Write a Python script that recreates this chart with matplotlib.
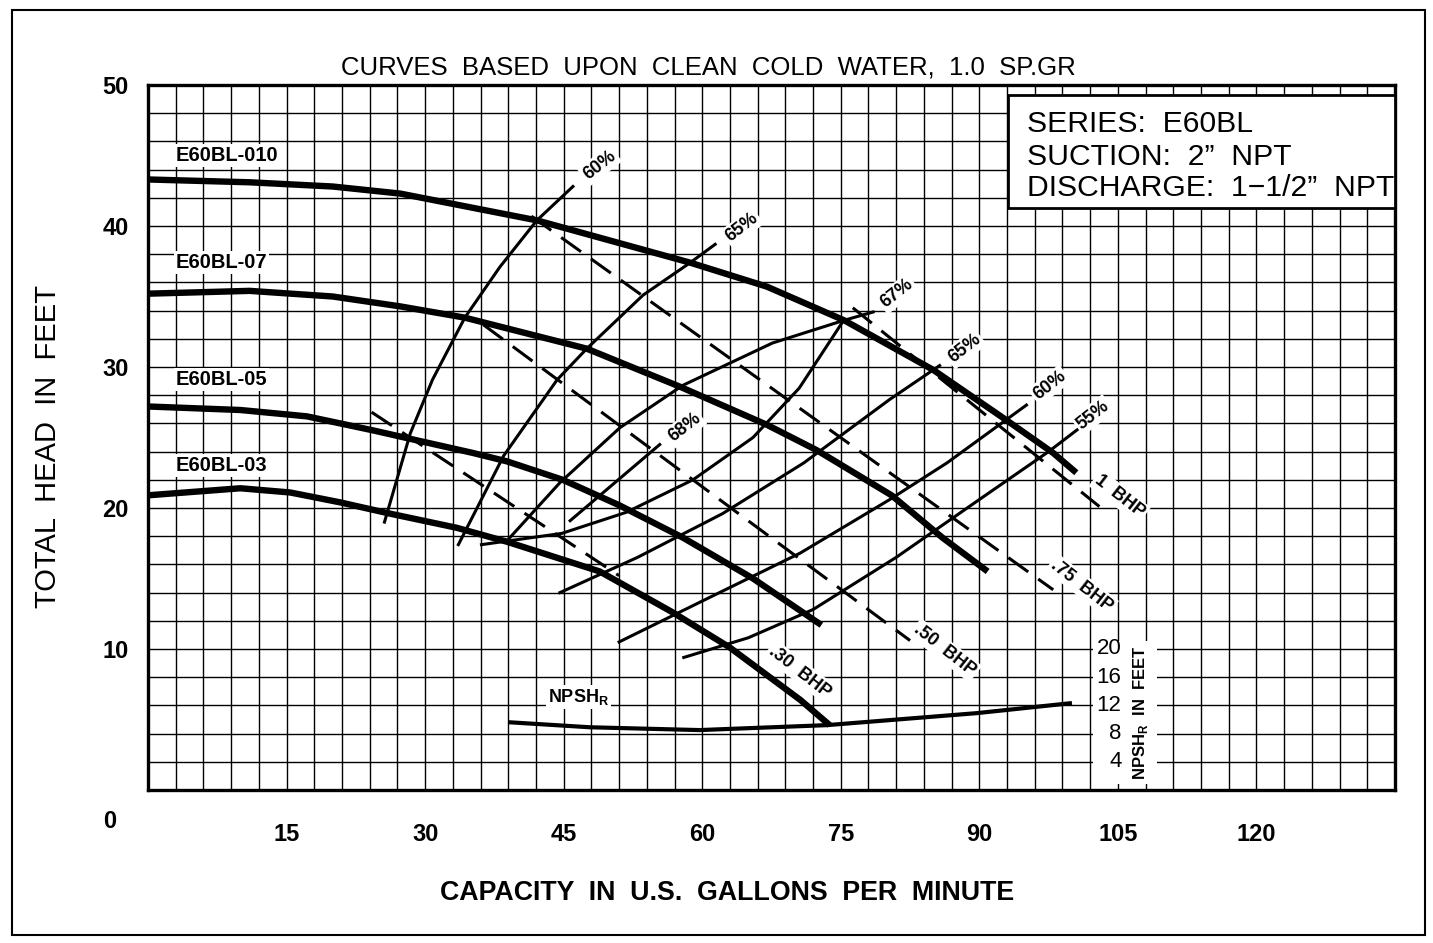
import numpy as np
import matplotlib
matplotlib.use('Agg')
import matplotlib.pyplot as plt
from matplotlib import font_manager
from matplotlib.patches import Rectangle

# pump performance curves (GPM, feet of head)
q_010 = [0, 11, 20, 27.3, 42.1, 58.7, 67, 75.4, 85, 93, 98, 100.5]
h_010 = [43.3, 43.1, 42.8, 42.3, 40.4, 37.4, 35.7, 33.3, 29.8, 26.2, 23.9, 22.5]
q_07 = [0, 11, 20, 27.3, 34.3, 47.5, 57.6, 67, 72.4, 80.5, 86, 90.9]
h_07 = [35.2, 35.4, 35.0, 34.3, 33.5, 31.3, 28.6, 25.9, 24.1, 20.9, 17.9, 15.5]
q_05 = [0, 10, 17.2, 24.4, 29.1, 35.2, 38.9, 44.9, 51, 57.9, 65.5, 72.9]
h_05 = [27.2, 26.95, 26.5, 25.5, 24.8, 23.9, 23.3, 22.0, 20.2, 17.9, 15.0, 11.7]
q_03 = [0, 10, 15.4, 20.8, 26.2, 33.4, 38.9, 48.9, 56.8, 63, 70.6, 73.8]
h_03 = [20.9, 21.4, 21.1, 20.4, 19.6, 18.6, 17.6, 15.5, 12.6, 10.1, 6.4, 4.6]

# efficiency lines
q_e60l = [25.6, 28.4, 30.8, 34.3, 38.1, 42.1, 46.0]
h_e60l = [19.0, 25.3, 29.1, 33.5, 37.1, 40.4, 42.8]
q_e65l = [33.6, 38.5, 44.3, 47.5, 53.6, 58.7, 61.4]
h_e65l = [17.4, 23.7, 29.1, 31.3, 35.1, 37.4, 38.7]
q_e67a = [38.9, 44.6, 51.1, 57.9, 67.6, 75.3, 78.5]
h_e67a = [17.7, 21.8, 25.7, 28.7, 31.7, 33.3, 33.9]
q_e67b = [36.1, 44.8, 51.8, 59.0, 65.5, 70.5, 75.3]
h_e67b = [17.4, 18.2, 19.7, 22.0, 25.0, 28.5, 33.3]
q_e68 = [45.7, 55.4]
h_e68 = [19.1, 24.5]
q_e65r = [44.6, 53, 62.2, 71, 80.3, 85.7]
h_e65r = [14.0, 16.5, 19.6, 23.2, 27.7, 30.1]
q_e60r = [51.0, 60, 70.6, 80.3, 86.5, 95.1]
h_e60r = [10.5, 13.4, 16.8, 20.6, 23.2, 27.3]
q_e55 = [58, 65, 72, 81, 90, 97.5, 101.5]
h_e55 = [9.4, 10.8, 12.8, 16.5, 20.6, 24.0, 26.0]

# brake horsepower lines
q_bhp100 = [76.3, 103.0]
h_bhp100 = [34.2, 20.1]
q_bhp75 = [41.5, 98.0]
h_bhp75 = [40.7, 14.2]
q_bhp50 = [36.3, 82.5]
h_bhp50 = [33.0, 10.6]
q_bhp30 = [24.2, 51.0]
h_bhp30 = [26.8, 15.2]

# NPSH required (feet of NPSH, drawn on a half scale)
q_npsh = [39.2, 47.8, 59.7, 73.5, 89.7, 99.8]
npsh = [9.6, 8.9, 8.5, 9.2, 10.9, 12.3]
npsh_ticks = [4, 8, 12, 16, 20]

x_ticks = [15, 30, 45, 60, 75, 90, 105, 120]
y_ticks = [10, 20, 30, 40, 50]

names = {f.name for f in font_manager.fontManager.ttflist}
narrow = 'Liberation Sans Narrow' in names
plt.rcParams['font.family'] = ['Liberation Sans', 'DejaVu Sans']

W, H = 1433, 943
fig = plt.figure(figsize=(W / 100, H / 100), dpi=100)
ax = fig.add_axes([148 / W, 1 - 790 / H, (1395 - 148) / W, (790 - 85) / H])
ax.set_xlim(0, 135)
ax.set_ylim(0, 50)

ax.set_xticks(x_ticks)
ax.set_yticks(y_ticks)
ax.set_xticks(np.arange(0, 136, 3), minor=True)
ax.set_yticks(np.arange(0, 51, 2), minor=True)
ax.grid(which='both', color='black', lw=1.0)
ax.set_axisbelow(True)
ax.tick_params(which='both', length=0)
ax.tick_params(axis='x', pad=24, labelsize=17)
ax.tick_params(axis='y', pad=14, labelsize=17)
for lab in ax.get_xticklabels() + ax.get_yticklabels():
    lab.set_fontweight('bold')
for s in ax.spines.values():
    s.set_linewidth(2.4)

thick = dict(color='black', lw=4.6, solid_capstyle='butt', zorder=4)
thin = dict(color='black', lw=2.2, zorder=3)
dash = dict(color='black', lw=2.2, dashes=(8, 4), zorder=3)

for q, h in [(q_010, h_010), (q_07, h_07), (q_05, h_05), (q_03, h_03)]:
    ax.plot(q, h, **thick)
for q, h in [(q_e60l, h_e60l), (q_e65l, h_e65l), (q_e67a, h_e67a), (q_e67b, h_e67b),
             (q_e68, h_e68), (q_e65r, h_e65r), (q_e60r, h_e60r), (q_e55, h_e55)]:
    ax.plot(q, h, **thin)
for q, h in [(q_bhp100, h_bhp100), (q_bhp75, h_bhp75), (q_bhp50, h_bhp50), (q_bhp30, h_bhp30)]:
    ax.plot(q, h, **dash)
ax.plot(q_npsh, np.array(npsh) / 2, color='black', lw=3.0, zorder=4)

wbox = dict(facecolor='white', edgecolor='none', pad=1.5)
curve_labels = [('E60BL-010', 45.0), ('E60BL-07', 37.4), ('E60BL-05', 29.1), ('E60BL-03', 23.0)]
for txt, y in curve_labels:
    ax.text(3.0, y, txt, fontsize=14.5, fontweight='bold', ha='left', va='center',
            bbox=wbox, zorder=5)

eff_labels = [('60%', 48.9, 44.3), ('65%', 64.3, 39.9), ('67%', 81.1, 35.2),
              ('65%', 88.4, 31.3), ('60%', 97.6, 28.7), ('55%', 102.3, 26.6),
              ('68%', 58.1, 25.7)]
for txt, x, y in eff_labels:
    ax.text(x, y, txt, fontsize=13, fontweight='bold', rotation=38,
            ha='center', va='center', bbox=wbox, zorder=5)

bhp_labels = [('1  BHP', 105.2, 20.8), ('.75  BHP', 101.1, 14.5),
              ('.50  BHP', 86.3, 9.9), ('.30  BHP', 70.6, 8.4)]
for txt, x, y in bhp_labels:
    ax.text(x, y, txt, fontsize=13, fontweight='bold', rotation=-38,
            ha='center', va='center', bbox=wbox, zorder=5)

ax.text(43.3, 6.6, r'NPSH$_\mathregular{R}$', fontsize=13, fontweight='bold',
        ha='left', va='center', bbox=wbox, zorder=5)

# secondary NPSH scale
ax.add_patch(Rectangle((102.3, 0.4), 6.9, 10.2, facecolor='white', edgecolor='none', zorder=2))
for v in npsh_ticks:
    ax.text(105.4, v / 2, str(v), fontsize=16, ha='right', va='center', zorder=5)
ax.text(107.5, 5.5, r'NPSH$_\mathregular{R}$  IN  FEET', fontsize=12, fontweight='bold',
        rotation=90, ha='center', va='center', zorder=5)

# info box
ax.add_patch(Rectangle((93.1, 41.3), 41.9, 8.0, facecolor='white', edgecolor='black',
                       lw=2.0, zorder=6))
info = ['SERIES:  E60BL', 'SUCTION:  2\u201d  NPT', 'DISCHARGE:  1\u22121/2\u201d  NPT']
for txt, y in zip(info, [47.2, 44.9, 42.7]):
    ax.text(95.2, y, txt, fontsize=21.7, ha='left', va='center', zorder=7)

if narrow:
    tfont = dict(family='Liberation Sans Narrow', fontsize=21)
    xfont = dict(family='Liberation Sans Narrow', fontsize=21)
else:
    tfont = dict(fontsize=18.5)
    xfont = dict(fontsize=19.3)
fig.text(708 / W, 1 - 68 / H, 'CURVES  BASED  UPON  CLEAN  COLD  WATER,  1.0  SP.GR',
         ha='center', va='center', **tfont)
fig.text(727 / W, 1 - 893 / H, 'CAPACITY  IN  U.S.  GALLONS  PER  MINUTE',
         fontweight='bold', ha='center', va='center', **xfont)
fig.text(48 / W, 1 - 447 / H, 'TOTAL  HEAD  IN  FEET', fontsize=21,
         rotation=90, ha='center', va='center')
fig.text(110 / W, 1 - 822 / H, '0', fontsize=17, fontweight='bold', ha='center', va='center')

# drawing frame
fig.add_artist(Rectangle((12 / W, 1 - 935 / H), (1425 - 12) / W, (935 - 10) / H,
                         transform=fig.transFigure, fill=False, lw=1.5, edgecolor='black'))

fig.savefig('out.png', dpi=100)
